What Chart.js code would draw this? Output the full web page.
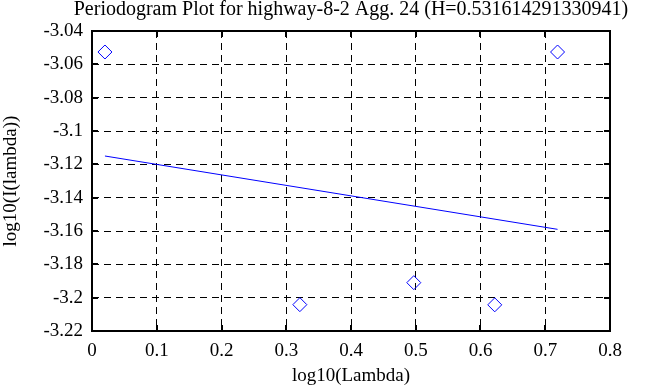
<!DOCTYPE html>
<html>
<head>
<meta charset="utf-8">
<script src="https://cdn.jsdelivr.net/npm/chart.js@4"></script>
<style>
  html, body { margin: 0; padding: 0; background: #fff; }
  #wrap { width: 668px; height: 387px; }
</style>
</head>
<body>
<div id="wrap"><canvas id="periodogram" width="668" height="387"></canvas></div>
<script>
const chartTitle = 'Periodogram Plot for highway-8-2 Agg. 24 (H=0.531614291330941)';

// periodogram points (log10 lambda vs log10 I(lambda))
const logLambda = [0.020, 0.321, 0.497, 0.622, 0.719];
const logI = [-3.0526, -3.2042, -3.1910, -3.2043, -3.0526];

// least squares fit line, end points
const fitX = [0.020, 0.719];
const fitY = [-3.1150, -3.1590];

const xTicks = [0, 0.1, 0.2, 0.3, 0.4, 0.5, 0.6, 0.7, 0.8];
const yTicks = [-3.04, -3.06, -3.08, -3.1, -3.12, -3.14, -3.16, -3.18, -3.2, -3.22];

const FONT = 'Liberation Serif';
const fmt = v => String(Number(v.toFixed(2)));

// small solid ticks on the inside of the frame, plus the title
const framePlugin = {
    id: 'frame',
    afterDraw(chart) {
        const { ctx, chartArea: a, scales } = chart;
        ctx.save();
        ctx.strokeStyle = '#000';
        ctx.lineWidth = 2;
        ctx.beginPath();
        xTicks.forEach(v => {
            const px = Math.round(scales.x.getPixelForValue(v));
            ctx.moveTo(px, a.bottom); ctx.lineTo(px, a.bottom - 6);
            ctx.moveTo(px, a.top); ctx.lineTo(px, a.top + 6);
        });
        yTicks.forEach(v => {
            const py = Math.round(scales.y.getPixelForValue(v));
            ctx.moveTo(a.left, py); ctx.lineTo(a.left + 6, py);
            ctx.moveTo(a.right, py); ctx.lineTo(a.right - 6, py);
        });
        ctx.stroke();
        ctx.strokeRect(a.left, a.top, a.right - a.left, a.bottom - a.top);

        ctx.fillStyle = '#000';
        ctx.font = '20px "' + FONT + '"';
        ctx.textAlign = 'center';
        ctx.textBaseline = 'middle';
        ctx.fillText(chartTitle, (a.left + a.right) / 2, 10);
        ctx.restore();
    }
};

new Chart(document.getElementById('periodogram'), {
    type: 'scatter',
    data: {
        datasets: [
            {
                label: 'data',
                data: logLambda.map((x, i) => ({ x, y: logI[i] })),
                pointStyle: 'rectRot',
                pointRadius: 7,
                pointBorderColor: '#0000ff',
                pointBackgroundColor: 'rgba(0,0,0,0)',
                pointBorderWidth: 1,
                showLine: false
            },
            {
                label: 'fit',
                data: fitX.map((x, i) => ({ x, y: fitY[i] })),
                showLine: true,
                borderColor: '#0000ff',
                borderWidth: 1,
                pointRadius: 0
            }
        ]
    },
    options: {
        responsive: false,
        animation: false,
        layout: { padding: { left: 0, top: 31, right: 58, bottom: 0 } },
        plugins: {
            legend: { display: false },
            tooltip: { enabled: false }
        },
        scales: {
            x: {
                type: 'linear',
                min: 0, max: 0.8,
                afterBuildTicks: s => { s.ticks = xTicks.map(value => ({ value })); },
                afterFit: s => { s.height = 56; },
                grid: { color: '#000', lineWidth: 1, drawTicks: false },
                border: { display: false, dash: [7, 5] },
                ticks: {
                    color: '#000', padding: 9,
                    font: { family: FONT, size: 19 },
                    maxRotation: 0,
                    callback: v => fmt(v)
                },
                title: {
                    display: true, text: 'log10(Lambda)', color: '#000',
                    font: { family: FONT, size: 19 },
                    padding: { top: 0, bottom: 0 }
                }
            },
            y: {
                type: 'linear',
                min: -3.22, max: -3.04,
                afterBuildTicks: s => { s.ticks = yTicks.map(value => ({ value })); },
                afterFit: s => { s.width = 92; },
                grid: { color: '#000', lineWidth: 1, drawTicks: false },
                border: { display: false, dash: [7, 5] },
                ticks: {
                    color: '#000', padding: 9,
                    font: { family: FONT, size: 19 },
                    callback: v => fmt(v)
                },
                title: {
                    display: true, text: 'log10(I(lambda))', color: '#000',
                    font: { family: FONT, size: 19 },
                    padding: { top: 0, bottom: 0 }
                }
            }
        }
    },
    plugins: [framePlugin]
});
</script>
</body>
</html>
